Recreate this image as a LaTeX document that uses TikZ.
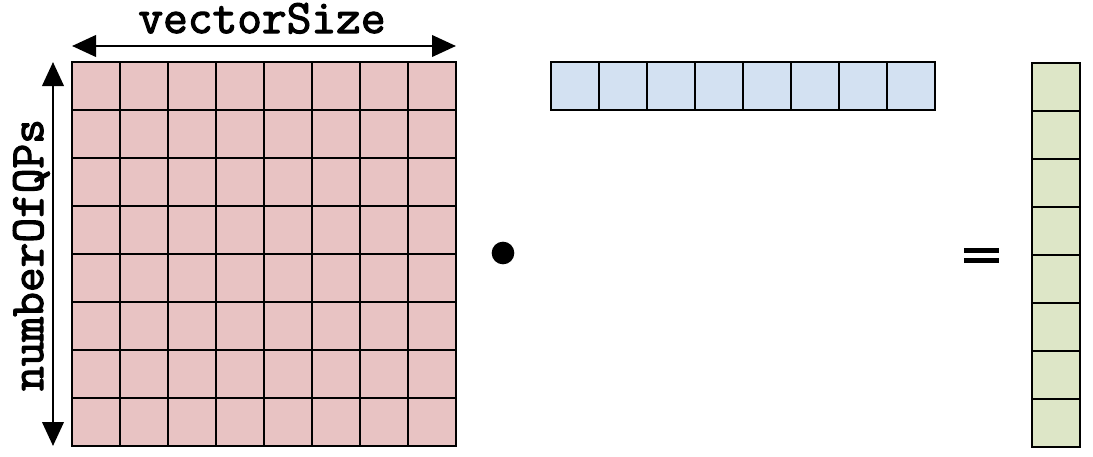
\documentclass[tikz,border=0pt]{standalone}
\usepackage{fontspec}
\newfontfamily\courbold[FakeBold=2.5]{Latin Modern Mono}
\usetikzlibrary{arrows.meta}
\definecolor{matpink}{RGB}{232,195,195}
\definecolor{vecblue}{RGB}{211,225,242}
\definecolor{resgreen}{RGB}{221,230,199}
\tikzset{
  cellgrid/.style={line width=2.1pt, draw=black, line join=miter},
  dimarrow/.style={line width=2.2pt, {Triangle[length=18pt,width=16pt]}-{Triangle[length=18pt,width=16pt]}},
  dimlabel/.style={font=\courbold\fontsize{36}{38}\selectfont, inner sep=0pt, text height=0.62em, text depth=0.2em},
  opsym/.style={inner sep=0pt}
}
\begin{document}
\begin{tikzpicture}[x=0.75pt,y=-0.75pt]
\useasboundingbox (0,0) rectangle (1093,457);
% matrix
\fill[matpink] (72,62) rectangle (456,446);
\foreach \i in {0,...,8} {
  \draw[cellgrid] (72+48*\i,62) -- (72+48*\i,446);
  \draw[cellgrid] (72,62+48*\i) -- (456,62+48*\i);
}
\draw[cellgrid] (72,62) rectangle (456,446);
% vector row
\fill[vecblue] (551,62) rectangle (935,110);
\foreach \i in {0,...,8} {
  \draw[cellgrid] (551+48*\i,62) -- (551+48*\i,110);
}
\draw[cellgrid] (551,62) rectangle (935,110);
% result column
\fill[resgreen] (1032,63) rectangle (1080,447);
\foreach \i in {0,...,8} {
  \draw[cellgrid] (1032,63+48*\i) -- (1080,63+48*\i);
}
\draw[cellgrid] (1032,63) rectangle (1080,447);
% dimension arrows
\coordinate (hl) at (72,46);
\coordinate (hr) at (456,46);
\coordinate (vt) at (53,62);
\coordinate (vb) at (53,446);
\draw[dimarrow] (hl) -- (hr);
\draw[dimarrow] (vt) -- (vb);
\node[dimlabel, anchor=base] (vs) at (262,33) {vectorSize};
\node[dimlabel, rotate=90, anchor=base] (nq) at (43,255) {numberOfQPs};
% operators
\fill (503,253) circle[radius=8.5pt] coordinate (dot);
\fill (964,247.5) rectangle (999,252.5);
\fill (964,257.5) rectangle (999,262.5);
\end{tikzpicture}
\end{document}
